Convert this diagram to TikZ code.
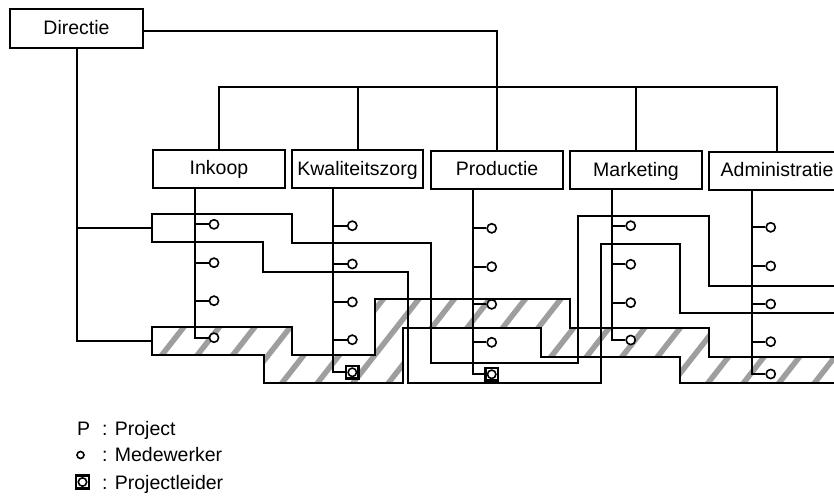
\documentclass[tikz,border=0pt]{standalone}
\usepackage{fontspec}
\setmainfont{Liberation Sans}
\usetikzlibrary{calc}
\begin{document}
\begin{tikzpicture}[x=1pt,y=-1pt,
  ln/.style={line width=2pt},
  box/.style={draw, line width=2pt, fill=white, minimum width=132pt, minimum height=38pt,
    inner sep=0pt, text height=14pt, text depth=2pt, font=\fontsize{19.5}{23}\selectfont},
  emp/.style={circle, draw, fill=white, line width=1.6pt, minimum size=9.2pt, inner sep=0pt},
  leider/.style={rectangle, draw, fill=white, line width=2.2pt, minimum size=12.4pt, inner sep=0pt,
    path picture={\draw[line width=1.6pt] (path picture bounding box.center) circle (4.2pt);}},
  hatch/.style={line width=5.5pt, draw=black!38},
  lab/.style={font=\fontsize{19.5}{23}\selectfont, inner sep=0pt, anchor=base west}
]
\useasboundingbox (0,0) rectangle (834,495);
\clip (0,0) rectangle (834,495);
\fill[white] (0,0) rectangle (834,495);

% ---------- hatched project ----------
\begin{scope}
\clip (152,327) -- (292,327) -- (292,355) -- (375,355) -- (375,299) -- (570,299) -- (570,328)
  -- (709,328) -- (709,357) -- (850,357) -- (850,383) -- (680,383) -- (680,357) -- (541,357)
  -- (541,328) -- (403,328) -- (403,383) -- (264,383) -- (264,355) -- (152,355) -- cycle;
\foreach \k in {0,...,26} \draw[hatch] ({40+35.5*\k},420) -- ++(112,-143);
\end{scope}
\draw[ln] (152,327) -- (292,327) -- (292,355) -- (375,355) -- (375,299) -- (570,299) -- (570,328)
  -- (709,328) -- (709,357) -- (850,357) -- (850,383) -- (680,383) -- (680,357) -- (541,357)
  -- (541,328) -- (403,328) -- (403,383) -- (264,383) -- (264,355) -- (152,355) -- cycle;

% ---------- open project ----------
\draw[ln] (850,286) -- (709,286) -- (709,216) -- (578,216) -- (578,363) -- (431,363) -- (431,243)
  -- (292,243) -- (292,214) -- (152,214) -- (152,242) -- (263,242) -- (263,272) -- (408,272)
  -- (408,383) -- (601,383) -- (601,244) -- (680,244) -- (680,313) -- (850,313);

% ---------- boxes ----------
\node[box, minimum width=133pt, minimum height=39pt] (dir) at (76.5,28.5) {Directie};
\node[box] (ink) at (219,168.5) {Inkoop};
\node[box, minimum width=131pt] (kwa) at (357.5,169) {Kwaliteitszorg};
\node[box] (pro) at (497,169.5) {Productie};
\node[box] (mar) at (636,170) {Marketing};
\node[box, minimum width=136pt] (adm) at (777,170.5) {Administratie};

% ---------- hierarchy ----------
\coordinate (busL) at (219,87);
\coordinate (busR) at (777,87);
\draw[ln] ($(dir.east)+(0,2.5)$) -| (pro.north);
\draw[ln] (ink.north) -- (busL) -- (busR) -- (adm.north);
\draw[ln] (kwa.north) -- (kwa.north |- busL);
\draw[ln] (mar.north) -- (mar.north |- busL);

% Directie to projects
\coordinate (p1w) at (152,228);
\coordinate (p2w) at (152,341);
\draw[ln] (dir.south) |- (p2w);
\draw[ln] (p1w -| dir.south) -- (p1w);

% ---------- members ----------
% Inkoop
\coordinate (iv) at (194.5,0);
\node[emp] (i1) at (214,224.3) {};
\node[emp] (i2) at (214,262.7) {};
\node[emp] (i3) at (214,300.7) {};
\node[emp] (i4) at (214,337.7) {};
\draw[ln] (ink.south -| iv) |- (i4.west);
\foreach \n in {1,2,3} \draw[ln] (i\n.west) -- (i\n -| iv);
% Kwaliteitszorg
\coordinate (kv) at (333.3,0);
\node[emp] (k1) at (352.3,225.7) {};
\node[emp] (k2) at (352.3,264) {};
\node[emp] (k3) at (352.3,302) {};
\node[emp] (k4) at (352.3,339.7) {};
\node[leider] (k5) at (352.3,372.3) {};
\draw[ln] (kwa.south -| kv) |- (k5.west);
\foreach \n in {1,2,3,4} \draw[ln] (k\n.west) -- (k\n -| kv);
% Productie
\coordinate (pv) at (473.3,0);
\node[emp] (q1) at (491.7,228.3) {};
\node[emp] (q2) at (491.7,266.7) {};
\node[emp] (q3) at (491.7,304.3) {};
\node[emp] (q4) at (491.7,342.3) {};
\node[leider] (q5) at (491.7,374.3) {};
\draw[ln] (pro.south -| pv) |- (q5.west);
\foreach \n in {1,2,3,4} \draw[ln] (q\n.west) -- (q\n -| pv);
% Marketing
\coordinate (mv) at (612.3,0);
\node[emp] (m1) at (630.7,225.7) {};
\node[emp] (m2) at (630.7,264.3) {};
\node[emp] (m3) at (630.7,302.7) {};
\node[emp] (m4) at (630.7,340) {};
\draw[ln] (mar.south -| mv) |- (m4.west);
\foreach \n in {1,2,3} \draw[ln] (m\n.west) -- (m\n -| mv);
% Administratie
\coordinate (av) at (752.3,0);
\node[emp] (a1) at (770.7,227.3) {};
\node[emp] (a2) at (770.7,266) {};
\node[emp] (a3) at (770.7,304) {};
\node[emp] (a4) at (770.7,341.7) {};
\node[emp] (a5) at (770.7,374) {};
\draw[ln] (adm.south -| av) |- (a5.west);
\foreach \n in {1,2,3,4} \draw[ln] (a\n.west) -- (a\n -| av);

% ---------- legend ----------
\node[lab] (lp) at (77,435) {P};
\node[lab] (lpt) at (102,435) {: Project};
\node[emp, minimum size=7pt] (lm) at (80.5,455) {};
\node[lab] (lmt) at (102,461.7) {: Medewerker};
\node[leider, minimum size=13pt] (ll) at (82.5,482) {};
\node[lab] (llt) at (102,489) {: Projectleider};
\end{tikzpicture}
\end{document}
